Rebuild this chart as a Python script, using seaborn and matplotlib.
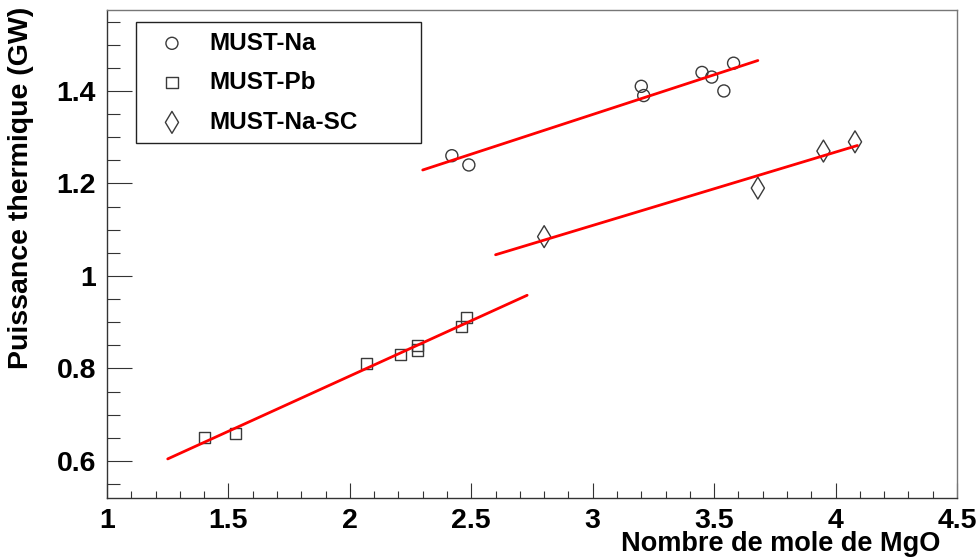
import numpy as np
import pandas as pd
import matplotlib
matplotlib.use("Agg")
import matplotlib.pyplot as plt
from matplotlib.ticker import MultipleLocator, FuncFormatter
import seaborn as sns

# ---- data ----
na_x = [2.42, 2.49, 3.20, 3.21, 3.45, 3.49, 3.54, 3.58]
na_y = [1.26, 1.24, 1.41, 1.39, 1.44, 1.43, 1.40, 1.46]
pb_x = [1.40, 1.53, 2.07, 2.21, 2.28, 2.28, 2.46, 2.48]
pb_y = [0.65, 0.66, 0.81, 0.83, 0.85, 0.84, 0.89, 0.91]
sc_x = [2.80, 3.68, 3.95, 4.08]
sc_y = [1.085, 1.19, 1.27, 1.29]
series_names = ["MUST-Na", "MUST-Pb", "MUST-Na-SC"]
fit_ranges = {"MUST-Na": (2.30, 3.68), "MUST-Pb": (1.25, 2.73), "MUST-Na-SC": (2.60, 4.09)}
xlabel = "Nombre de mole de MgO"
ylabel = "Puissance thermique (GW)"

sns.set_style("white")
plt.rcParams["font.family"] = ["Liberation Sans", "DejaVu Sans"]
plt.rcParams["font.weight"] = "bold"
plt.rcParams["text.color"] = "black"
plt.rcParams["axes.labelcolor"] = "black"
plt.rcParams["xtick.color"] = "black"
plt.rcParams["ytick.color"] = "black"

df = pd.concat([
    pd.DataFrame({"x": na_x, "y": na_y, "serie": "MUST-Na"}),
    pd.DataFrame({"x": pb_x, "y": pb_y, "serie": "MUST-Pb"}),
    pd.DataFrame({"x": sc_x, "y": sc_y, "serie": "MUST-Na-SC"}),
], ignore_index=True)

fig = plt.figure(figsize=(9.76, 5.58), dpi=100)
ax = fig.add_axes([107/976, 1-498/558, 850/976, 488/558])

markers = {"MUST-Na": ("o", 75), "MUST-Pb": ("s", 65), "MUST-Na-SC": ("d", 125)}
edge = "#3a3a3a"
for name in series_names:
    sub = df[df.serie == name]
    m, s = markers[name]
    sns.scatterplot(data=sub, x="x", y="y", ax=ax, marker=m, s=s,
                    facecolors="none", edgecolor=edge, linewidth=1.0,
                    label=name, zorder=2)

# linear fits
for name in series_names:
    sub = df[df.serie == name]
    a, b = np.polyfit(sub.x, sub.y, 1)
    xs = np.array(fit_ranges[name])
    fit_df = pd.DataFrame({"x": xs, "y": a * xs + b})
    sns.lineplot(data=fit_df, x="x", y="y", ax=ax, color="red", lw=2.0,
                 zorder=3, legend=False)

ax.set_xlim(1, 4.5)
ax.set_ylim(0.52, 1.575)
ax.xaxis.set_major_locator(MultipleLocator(0.5))
ax.xaxis.set_minor_locator(MultipleLocator(0.1))
ax.yaxis.set_major_locator(MultipleLocator(0.2))
ax.yaxis.set_minor_locator(MultipleLocator(0.05))
fmt = FuncFormatter(lambda v, p: "%g" % round(v, 3))
ax.xaxis.set_major_formatter(fmt)
ax.yaxis.set_major_formatter(fmt)

ax.tick_params(axis="x", which="major", direction="in", length=10.8, width=0.8,
               color="#333", labelcolor="black", labelsize=20.5, pad=7,
               bottom=True, top=False)
ax.tick_params(axis="x", which="minor", direction="in", length=5.4, width=0.8,
               color="#333", bottom=True, top=False)
ax.tick_params(axis="y", which="major", direction="in", length=18, width=0.8,
               color="#333", labelcolor="black", labelsize=20.5, pad=8,
               left=True, right=False)
ax.tick_params(axis="y", which="minor", direction="in", length=9, width=0.8,
               color="#333", left=True, right=False)
for lab in ax.get_xticklabels() + ax.get_yticklabels():
    lab.set_fontweight("bold")

for side, sp in ax.spines.items():
    sp.set_visible(True)
    sp.set_linewidth(1.0)
    sp.set_color("#333" if side in ("left", "bottom") else "#777")

ax.set_xlabel(xlabel, fontsize=19.5, fontweight="bold", loc="right", color="black")
ax.xaxis.set_label_coords(0.98, -0.068)
ax.set_ylabel(ylabel, fontsize=20.5, fontweight="bold", loc="top", color="black")
ax.yaxis.set_label_coords(-0.086, 1.006)

leg = ax.legend(loc="lower left", bbox_to_anchor=(0.0341, 0.7275, 0.335, 0.2455),
                mode="expand", frameon=True, fancybox=False,
                edgecolor="#222", borderpad=0.38, labelspacing=0.68,
                handlelength=2.2, handletextpad=0.45, borderaxespad=0,
                prop={"weight": "bold", "size": 17.5})
leg.get_frame().set_linewidth(1.0)
leg.get_frame().set_alpha(1)
for t in leg.get_texts():
    t.set_color("black")

fig.savefig("out.png", dpi=100)
